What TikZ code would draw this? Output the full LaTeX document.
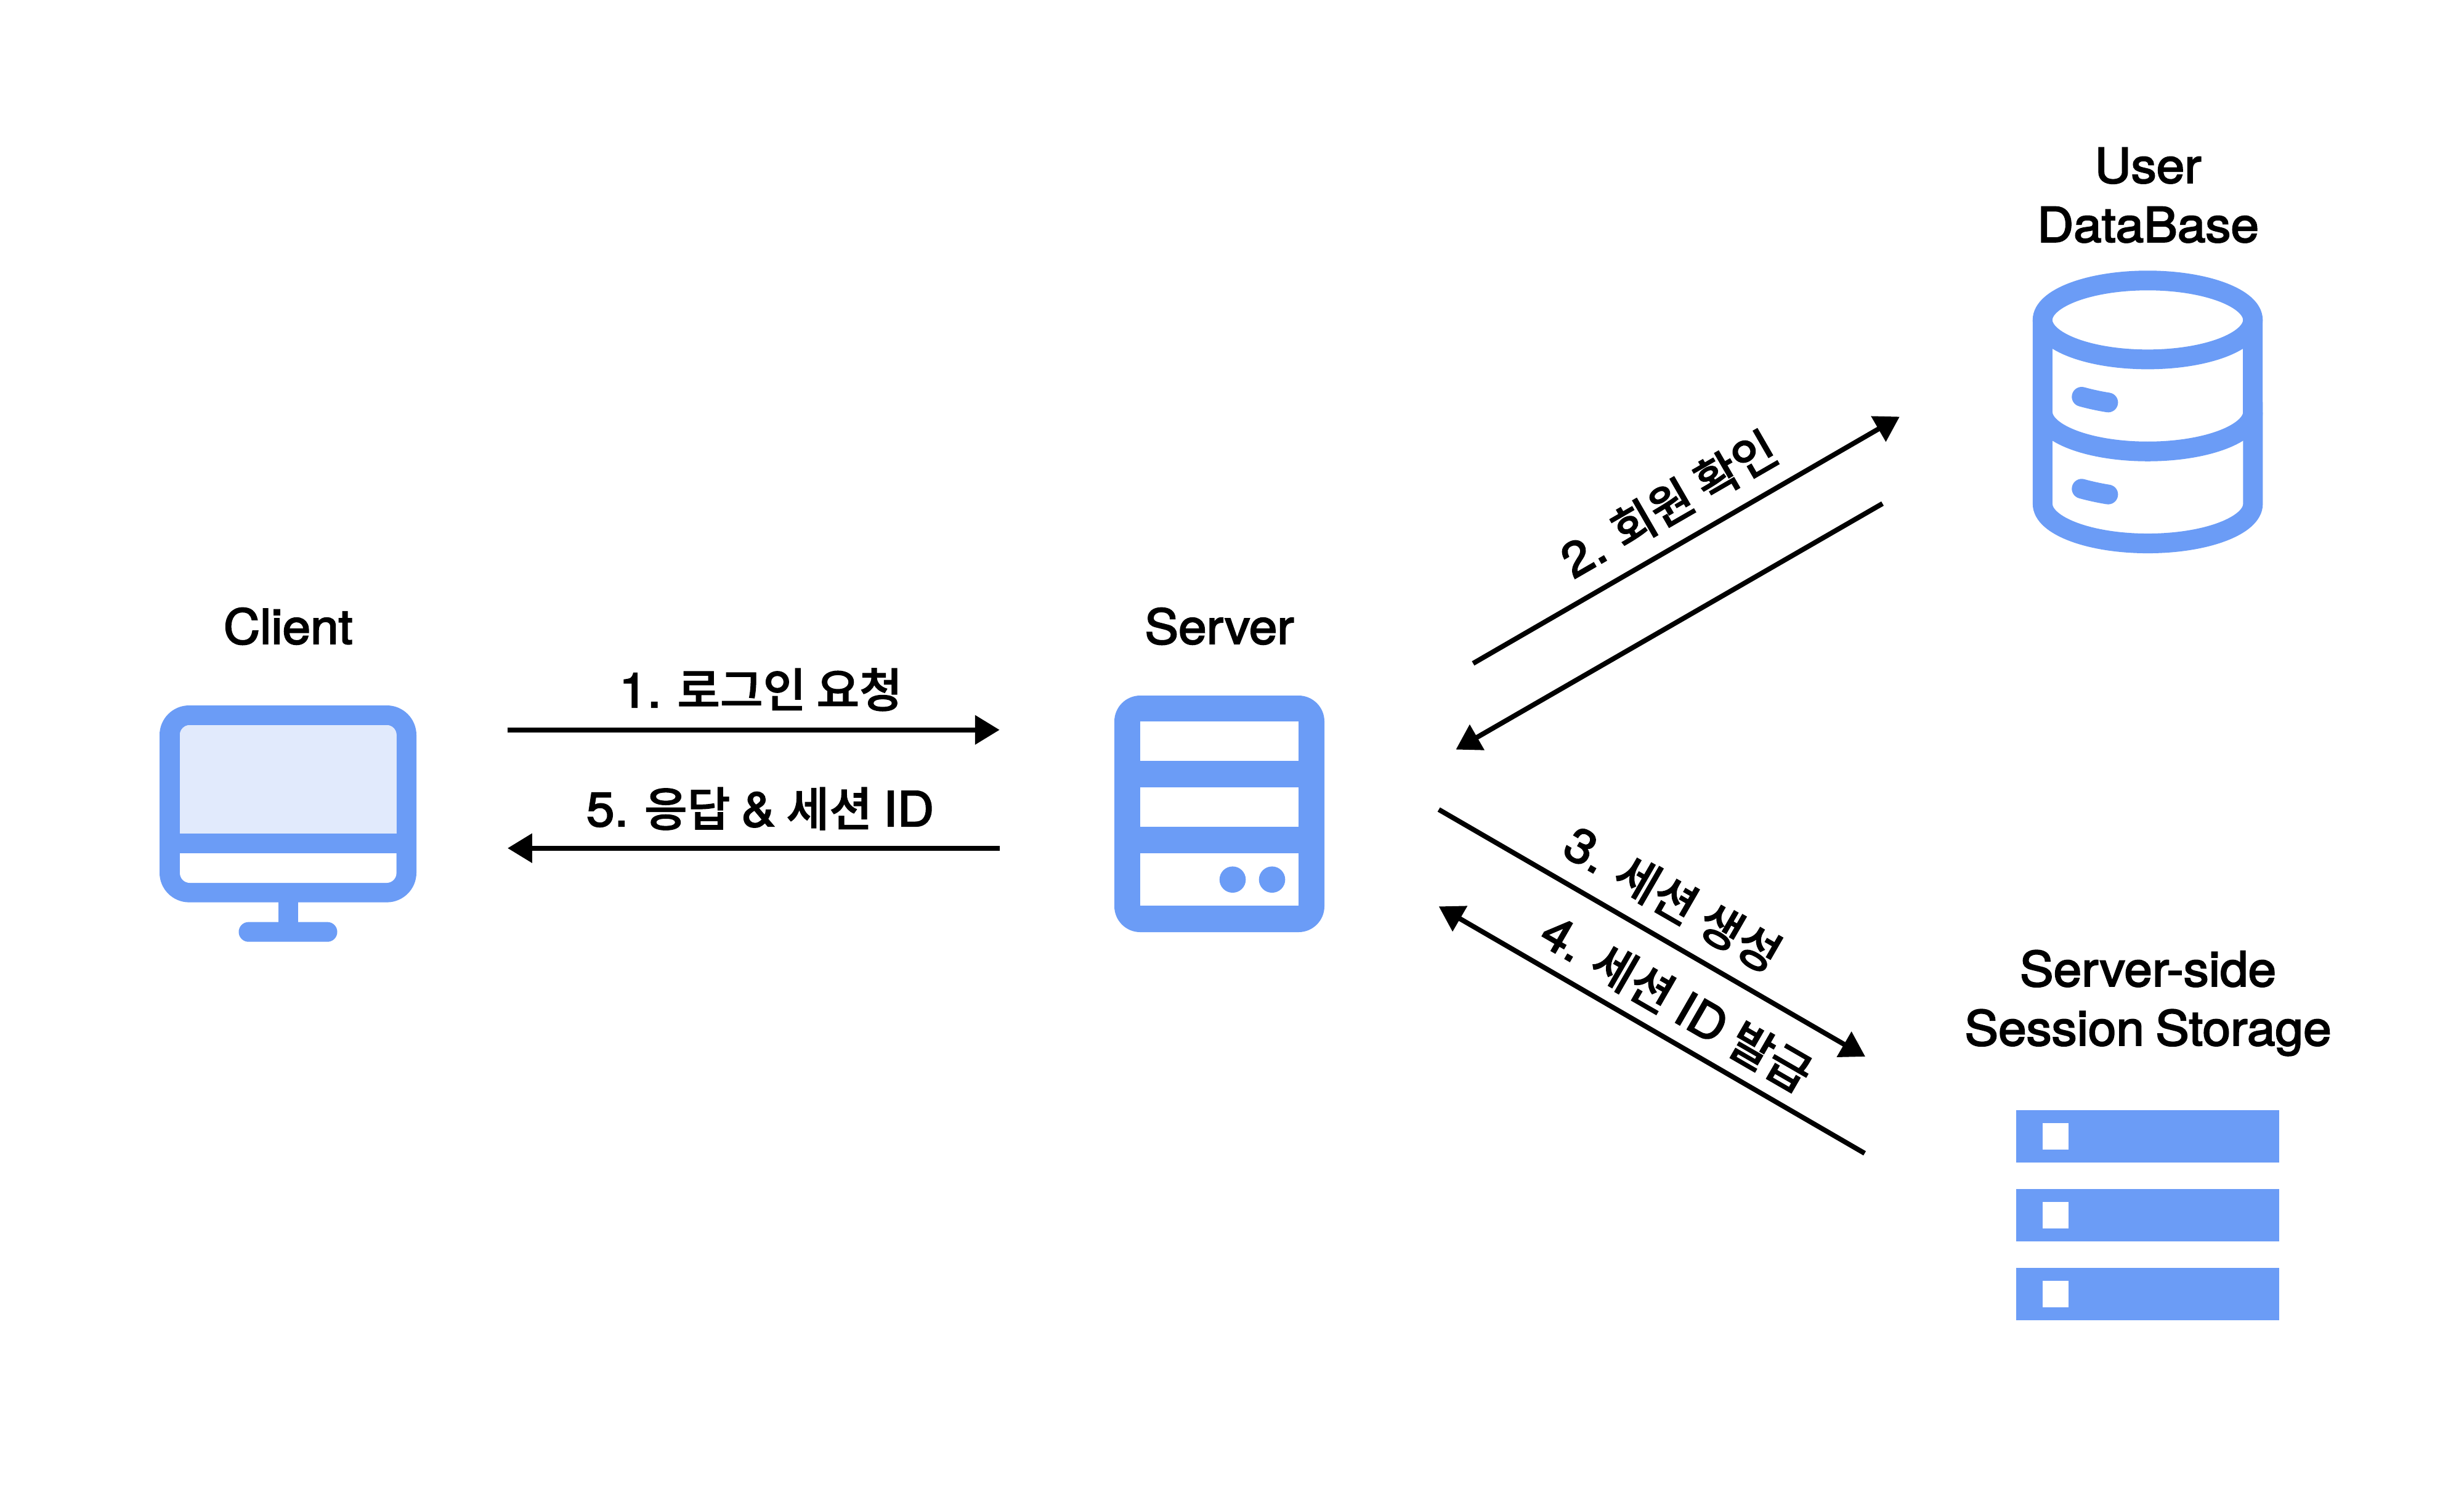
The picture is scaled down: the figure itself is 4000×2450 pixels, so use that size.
\documentclass[tikz,border=0pt]{standalone}
\usepackage{fontspec}
\usetikzlibrary{arrows.meta}
\setmainfont{TeX Gyre Heros}[FakeBold=2.8,FakeStretch=1.05,WordSpace=0.8]
\newfontfamily\kofont{Noto Sans CJK KR Medium}[Scale=0.97,FakeBold=1.6,WordSpace=1.0]
\definecolor{iconblue}{HTML}{6B9CF6}
\definecolor{screenblue}{HTML}{E1EAFC}
\tikzset{
  iconfill/.style={fill=iconblue,draw=none},
  holefill/.style={fill=white,draw=none},
  flow/.style={line width=0.08cm,draw=black,-{Triangle[length=0.398cm,width=0.46cm]}},
  lbl/.style={inner sep=0pt,font=\fontsize{22.2}{27.3}\selectfont,text=black,align=center},
  dbline/.style={draw=iconblue,line width=0.32cm},
}
\begin{document}
\begin{tikzpicture}[x=0.01cm,y=-0.01cm]
\useasboundingbox (0,0) rectangle (4000,2450);
\fill[white] (0,0) rectangle (4000,2450);
% client monitor
\fill[iconfill] (452,1450) rectangle (483.6,1510);
\fill[iconfill,rounded corners=0.16cm] (387.5,1496.6) rectangle (547.5,1528.7);
\fill[iconfill,rounded corners=0.48cm] (259,1145) rectangle (676,1464.6);
\fill[holefill,rounded corners=0.16cm] (292,1177) rectangle (643.6,1433);
\fill[screenblue] (292,1353) [rounded corners=0.16cm] -- (292,1177) -- (643.6,1177) [sharp corners] -- (643.6,1353) -- cycle;
\fill[iconfill] (292,1352.8) rectangle (643.6,1384.8);
% server
\fill[iconfill,rounded corners=0.42cm] (1809,1129) rectangle (2150,1513);
\fill[holefill] (1851.3,1171.3) rectangle (2107.7,1235.3);
\fill[holefill] (1851.3,1278.3) rectangle (2107.7,1342.3);
\fill[holefill] (1851.3,1385) rectangle (2107.7,1470);
\fill[iconfill] (2001,1427.7) circle[radius=0.213cm];
\fill[iconfill] (2065,1427.7) circle[radius=0.213cm];
% database
\draw[dbline] (3486.5,519.3) ellipse[x radius=1.706cm,y radius=0.64cm];
\draw[dbline] (3315.9,519.3) -- (3315.9,818) arc[start angle=180,end angle=360,x radius=1.706cm,y radius=0.64cm] -- (3657.1,519.3);
\draw[dbline] (3315.9,668.7) arc[start angle=180,end angle=360,x radius=1.706cm,y radius=0.64cm];
\draw[dbline,line cap=round] (3379.3,644) .. controls (3394,648) and (3408,651) .. (3422.3,653.3);
\draw[dbline,line cap=round] (3379.3,793.3) .. controls (3394,797.3) and (3408,800.3) .. (3422.3,802.6);
% storage
\fill[iconfill] (3273,1802.3) rectangle (3699.7,1887.3);
\fill[iconfill] (3273,1930.3) rectangle (3699.7,2015.3);
\fill[iconfill] (3273,2058.3) rectangle (3699.7,2143.3);
\fill[holefill] (3315.7,1823.3) rectangle (3358.3,1866.3);
\fill[holefill] (3315.7,1951.3) rectangle (3358.3,1994.3);
\fill[holefill] (3315.7,2079.3) rectangle (3358.3,2122.3);
% connector ends
\coordinate (a1s) at (823.6,1184.7);  \coordinate (a1e) at (1622.7,1184.7);
\coordinate (a5s) at (1623,1376.7);   \coordinate (a5e) at (824,1376.7);
\coordinate (a2s) at (2391.4,1076.8); \coordinate (a2e) at (3083.8,676.4);
\coordinate (a2bs) at (3056,817.4);   \coordinate (a2be) at (2363.4,1216.6);
\coordinate (a3s) at (2335.7,1314);   \coordinate (a3e) at (3028,1715);
\coordinate (a4s) at (3027,1872);     \coordinate (a4e) at (2335.7,1471.3);
\draw[flow] (a1s) -- (a1e);
\draw[flow] (a5s) -- (a5e);
\draw[flow] (a2s) -- (a2e);
\draw[flow] (a2bs) -- (a2be);
\draw[flow] (a3s) -- (a3e);
\draw[flow] (a4s) -- (a4e);
% labels
\node[lbl,anchor=base] (client) at (467.7,1045) {Client};
\node[lbl,anchor=base] (server) at (1979.5,1045) {Server};
\node[lbl,anchor=base] (userdb) at (3487,392.7) {User\\DataBase};
\node[lbl,anchor=base] (storage) at (3487,1696.7) {Server-side\\Session Storage};
\node[lbl,anchor=base] (l1) at (1235,1148) {1. {\kofont 로그인 요청}};
\node[lbl,anchor=base] (l5) at (1234,1341) {5. {\kofont 응답} \& {\kofont 세션} ID};
\node[lbl,rotate=30] (l2) at (2709,818) {2. {\kofont 회원 확인}};
\node[lbl,rotate=-30] (l3) at (2716,1459) {3. {\kofont 세션 생성}};
\node[lbl,rotate=-30] (l4) at (2722,1628) {4. {\kofont 세션} ID {\kofont 발급}};
\end{tikzpicture}
\end{document}
